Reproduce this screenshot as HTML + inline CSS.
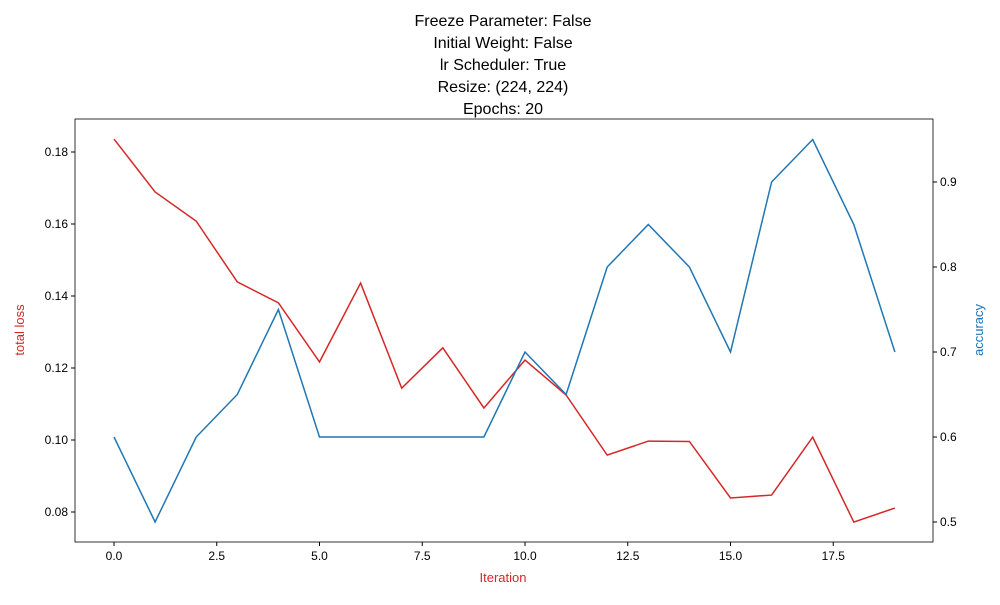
<!DOCTYPE html>
<html><head><meta charset="utf-8"><style>
body{margin:0;background:#fff;font-family:"Liberation Sans","DejaVu Sans",sans-serif}
</style></head><body>
<svg id="chart" width="1000" height="600" xmlns="http://www.w3.org/2000/svg">
<g font-size="16" text-anchor="middle" fill="#000">
<text x="503" y="26">Freeze Parameter: False</text>
<text x="503" y="48">Initial Weight: False</text>
<text x="503" y="70">lr Scheduler: True</text>
<text x="503" y="92">Resize: (224, 224)</text>
<text x="503" y="114">Epochs: 20</text>
</g>
<g id="plot"></g>
</svg>
<script>
const iterations=[0,1,2,3,4,5,6,7,8,9,10,11,12,13,14,15,16,17,18,19];
const lossValues=[0.1836,0.1689,0.1608,0.1439,0.1381,0.1217,0.1436,0.1144,0.1256,0.1089,0.1222,0.1125,0.0958,0.0997,0.0996,0.0839,0.0847,0.1008,0.0772,0.0811];
const accValues=[0.6,0.5,0.6,0.65,0.75,0.6,0.6,0.6,0.6,0.6,0.7,0.65,0.8,0.85,0.8,0.7,0.9,0.95,0.85,0.7];
const xTicks=[0,2.5,5,7.5,10,12.5,15,17.5];
const xTickLabels=["0.0","2.5","5.0","7.5","10.0","12.5","15.0","17.5"];
const lossTicks=[0.08,0.10,0.12,0.14,0.16,0.18];
const lossTickLabels=["0.08","0.10","0.12","0.14","0.16","0.18"];
const accTicks=[0.5,0.6,0.7,0.8,0.9];
const accTickLabels=["0.5","0.6","0.7","0.8","0.9"];

const L=75,R=933,T=119,B=542;
const xs=v=>114+v*41.1;
const yl=v=>152+(0.18-v)*3600;
const yr=v=>182+(0.9-v)*850;
const NS="http://www.w3.org/2000/svg";
const g=document.getElementById('plot');
function mk(tag,attrs,parent){const e=document.createElementNS(NS,tag);for(const k in attrs)e.setAttribute(k,attrs[k]);(parent||g).appendChild(e);return e;}

const lossLine=mk('polyline',{points:iterations.map((x,i)=>xs(x)+','+yl(lossValues[i])).join(' '),fill:'none',stroke:'#d62728','stroke-width':1.5});


const accLine=mk('polyline',{points:iterations.map((x,i)=>xs(x)+','+yr(accValues[i])).join(' '),fill:'none',stroke:'#1f77b4','stroke-width':1.5});



const frame=mk('rect',{x:L,y:T,width:R-L,height:B-T,fill:'none',stroke:'#000','stroke-width':0.8});



xTicks.forEach((v,i)=>{
 mk('line',{x1:xs(v),x2:xs(v),y1:B,y2:B+4,stroke:'#000'});
 const t=mk('text',{x:xs(v),y:B+18,'font-size':12,'text-anchor':'middle'});t.textContent=xTickLabels[i];
 
 
});
lossTicks.forEach((v,i)=>{
 mk('line',{x1:L-4,x2:L,y1:yl(v),y2:yl(v),stroke:'#000'});
 const t=mk('text',{x:L-7,y:yl(v)+4,'font-size':12,'text-anchor':'end'});t.textContent=lossTickLabels[i];
 
 
});
accTicks.forEach((v,i)=>{
 mk('line',{x1:R,x2:R+4,y1:yr(v),y2:yr(v),stroke:'#000'});
 const t=mk('text',{x:R+7,y:yr(v)+4,'font-size':12,'text-anchor':'start'});t.textContent=accTickLabels[i];
 
 
});
const xl=mk('text',{x:503,y:582,'font-size':13,'text-anchor':'middle',fill:'#d62728'});xl.textContent='Iteration';


const ll=mk('text',{x:0,y:0,'font-size':13,'text-anchor':'middle',fill:'#d62728',transform:'translate(24,330) rotate(-90)'});ll.textContent='total loss';


const al=mk('text',{x:0,y:0,'font-size':13,'text-anchor':'middle',fill:'#1f77b4',transform:'translate(983,330) rotate(-90)'});al.textContent='accuracy';


</script>
</body></html>
